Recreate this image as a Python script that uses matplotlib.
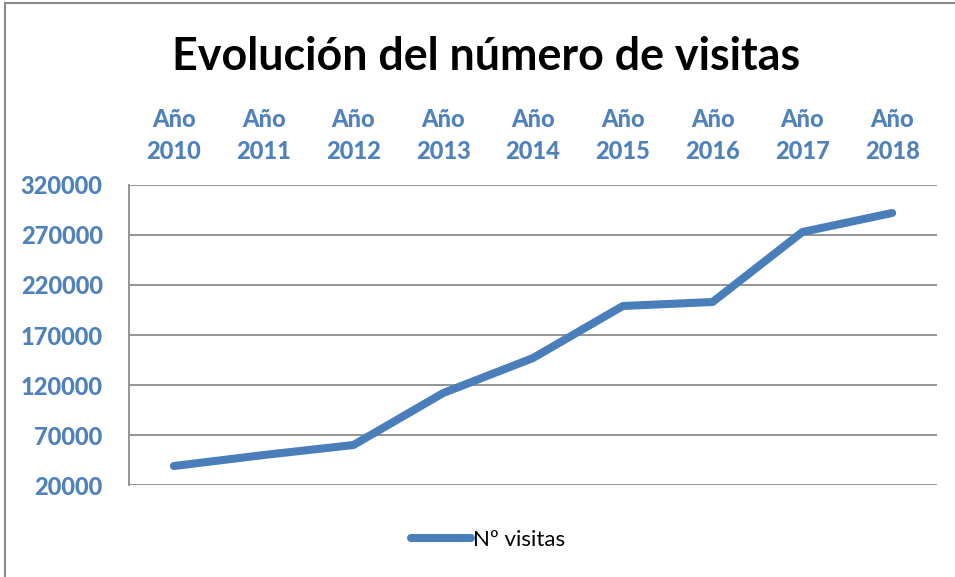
import matplotlib.pyplot as plt
from matplotlib.lines import Line2D

BLUE = "#4A7EBB"
LABEL_BLUE = "#4F81BD"
GRID_GRAY = "#8C8C8C"

years = ["2010", "2011", "2012", "2013", "2014", "2015", "2016", "2017", "2018"]
visits = [39000, 50000, 60000, 112000, 147000, 199000, 203000, 273000, 292000]
y_ticks = [20000, 70000, 120000, 170000, 220000, 270000, 320000]

plt.rcParams["font.family"] = ["Lato", "DejaVu Sans"]

fig = plt.figure(figsize=(9.55, 5.77), dpi=100)
ax = fig.add_axes([0.1351, 0.1594, 0.8461, 0.5200])

x = list(range(len(years)))
ax.plot(x, visits, color=BLUE, linewidth=5.8,
        solid_capstyle="round", solid_joinstyle="round", label="Nº visitas")

ax.set_xlim(-0.5, len(years) - 0.5)
ax.set_ylim(20000, 320000)
ax.set_yticks(y_ticks)
ax.set_yticklabels([str(v) for v in y_ticks], fontsize=17, fontweight=900, color=LABEL_BLUE)

ax.xaxis.tick_top()
ax.set_xticks(x)
ax.set_xticklabels([f"Año\n{y}" for y in years], fontsize=17, fontweight=900,
                   color=LABEL_BLUE, linespacing=1.45)
ax.tick_params(axis="x", length=0, pad=16)
ax.tick_params(axis="y", length=0, pad=19)

ax.grid(axis="y", color=GRID_GRAY, linewidth=1.3)
ax.set_axisbelow(True)
for side in ["top", "right", "bottom"]:
    ax.spines[side].set_visible(False)
ax.spines["left"].set_color(GRID_GRAY)
ax.spines["left"].set_linewidth(1.3)

fig.text(0.509, 0.902, "Evolución del número de visitas", ha="center", va="center",
         fontsize=32.3, fontweight="bold", color="black")

handle = Line2D([], [], color=BLUE, linewidth=5.8, solid_capstyle="round")
fig.legend([handle], ["Nº visitas"], loc="center", bbox_to_anchor=(0.511, 0.064),
           frameon=False, fontsize=16, handlelength=2.7, handletextpad=0.1)

# chart frame along the top and left edges
fig.add_artist(Line2D([0.005, 0.005], [0.0, 0.995], color="#8A8A8A", linewidth=1.5,
                      transform=fig.transFigure))
fig.add_artist(Line2D([0.005, 1.0], [0.995, 0.995], color="#8A8A8A", linewidth=1.5,
                      transform=fig.transFigure))

fig.savefig("out.png", dpi=100, facecolor="white")
